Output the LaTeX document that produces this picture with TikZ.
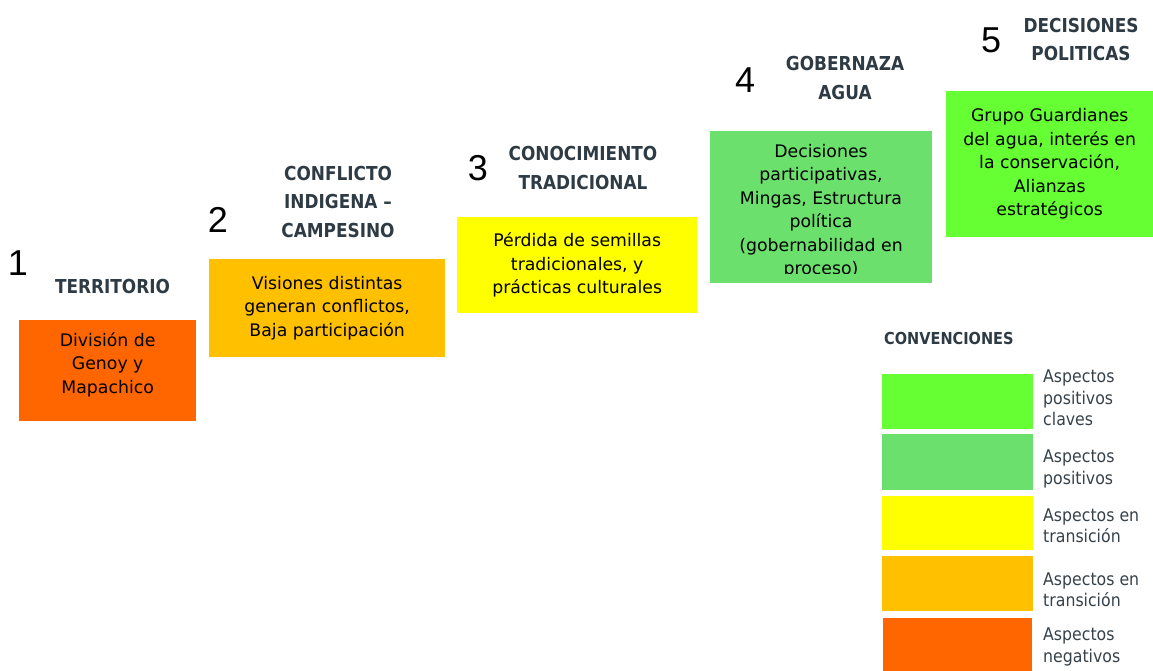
\documentclass[tikz,border=0pt]{standalone}
\usepackage{fontspec}
\setmainfont{DejaVu Sans}
\newfontfamily\numfont{Liberation Sans}
\newfontfamily\narrowfont{DejaVu Sans}[FakeStretch=0.88]
\newfontfamily\legfont{DejaVu Sans}[FakeStretch=0.9]
\definecolor{negc}{HTML}{FF6600}
\definecolor{transc}{HTML}{FFC000}
\definecolor{yelc}{HTML}{FFFF00}
\definecolor{posc}{HTML}{6CE06C}
\definecolor{keyc}{HTML}{66FF33}
\definecolor{ttlc}{HTML}{2E3B44}
\definecolor{lblc}{HTML}{36414A}
\tikzset{
  boxnode/.style={anchor=north west, inner sep=0pt, align=center, text=black,
    font=\fontsize{17.3}{23.5}\selectfont},
  boxtext/.style={inner sep=0pt, align=center, text=black,
    font=\fontsize{17.3}{23.5}\selectfont},
  titlenode/.style={inner sep=0pt, align=center, text=ttlc,
    font=\narrowfont\bfseries\fontsize{19.2}{28.5}\selectfont},
  numnode/.style={inner sep=0pt, text=black, font=\numfont\fontsize{36}{36}\selectfont},
  legbox/.style={anchor=north west, inner sep=0pt, minimum width=151pt},
  legtext/.style={anchor=west, inner sep=0pt, align=left, text=lblc,
    font=\legfont\fontsize{17.5}{21.5}\selectfont}
}
\begin{document}
\begin{tikzpicture}[x=1pt,y=-1pt]
\useasboundingbox (0,0) rectangle (1153,671);
% 1
\node[numnode] (n1) at (18,263) {1};
\node[titlenode] (t1) at (112.5,287) {TERRITORIO};
\node[boxnode, fill=negc, minimum width=177pt, minimum height=101pt] (b1) at (19,320) {División de\\Genoy y\\Mapachico\\[-8pt]};
% 2
\node[numnode] (n2) at (218,220) {2};
\node[titlenode] (t2) at (338,202) {CONFLICTO\\INDIGENA –\\CAMPESINO};
\node[boxnode, fill=transc, minimum width=236pt, minimum height=98pt] (b2) at (209,259) {Visiones distintas\\generan conflictos,\\Baja participación};
% 3
\node[numnode] (n3) at (478,168) {3};
\node[titlenode] (t3) at (583,168) {CONOCIMIENTO\\TRADICIONAL};
\node[boxnode, fill=yelc, minimum width=240pt, minimum height=96pt] (b3) at (457,217) {Pérdida de semillas\\tradicionales, y\\prácticas culturales};
% 4
\node[numnode] (n4) at (745,80) {4};
\node[titlenode] (t4) at (845,78) {GOBERNAZA\\AGUA};
\node[boxnode, fill=posc, minimum width=222pt, minimum height=152pt] (b4) at (710,131) {};
\begin{scope}
\clip (710,131) rectangle (932,273);
\node[boxtext] (b4t) at (821,211) {Decisiones\\participativas,\\Mingas, Estructura\\política\\(gobernabilidad en\\proceso)};
\end{scope}
% 5
\node[numnode] (n5) at (991,40) {5};
\node[titlenode] (t5) at (1081,39.5) {DECISIONES\\POLITICAS};
\node[boxnode, fill=keyc, minimum width=207pt, minimum height=146pt] (b5) at (946,91) {Grupo Guardianes\\del agua, interés en\\la conservación,\\Alianzas\\estratégicos};
% legend
\node[titlenode, anchor=west, font=\narrowfont\bfseries\fontsize{16.5}{18}\selectfont] (conv) at (884,338) {CONVENCIONES};
\node[legbox, fill=keyc, minimum height=55pt] (l1) at (882,374) {};
\node[legbox, fill=posc, minimum height=56pt] (l2) at (882,434) {};
\node[legbox, fill=yelc, minimum height=54pt] (l3) at (882,496) {};
\node[legbox, fill=transc, minimum height=55pt] (l4) at (882,556) {};
\node[legbox, fill=negc, minimum width=149pt, minimum height=53pt] (l5) at (883,618) {};
\node[legtext] (lt1) at (1043,398) {Aspectos\\positivos\\claves};
\node[legtext] (lt2) at (1043,469) {Aspectos\\positivos};
\node[legtext] (lt3) at (1043,525.5) {Aspectos en\\transición};
\node[legtext] (lt4) at (1043,589.5) {Aspectos en\\transición};
\node[legtext] (lt5) at (1043,647) {Aspectos\\negativos};
\end{tikzpicture}
\end{document}
